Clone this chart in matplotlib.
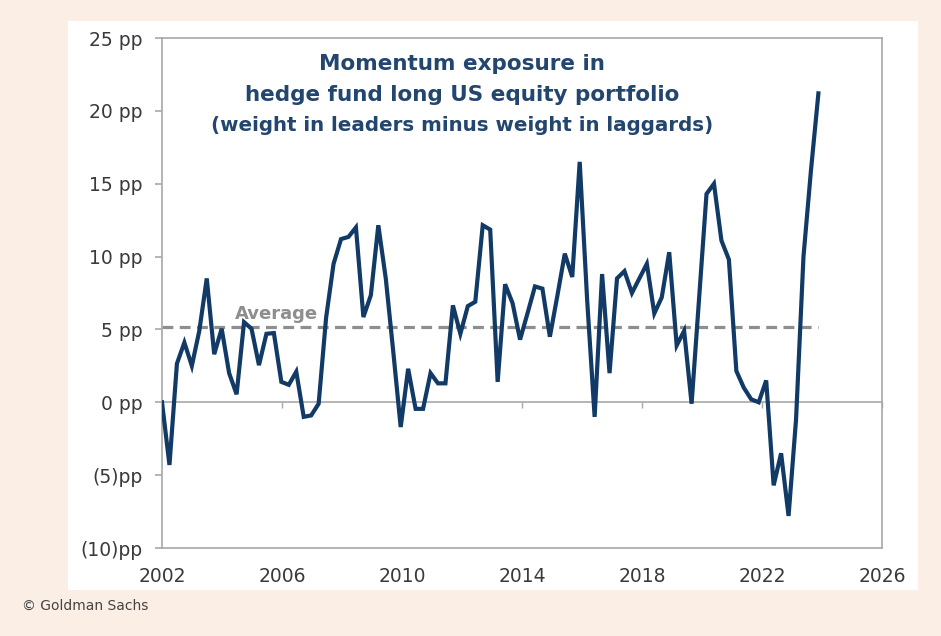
import numpy as np
import matplotlib
matplotlib.use("Agg")
import matplotlib.pyplot as plt
from matplotlib.patches import Rectangle
from matplotlib.ticker import FixedLocator, FixedFormatter

# ---- data (quarterly, pp) ----
momentum = [
    0.0, -4.3, 2.65, 4.1, 2.5, 4.9, 8.5, 3.3, 5.05, 2.0, 0.55,
    5.5, 5.05, 2.55, 4.7, 4.75, 1.4, 1.2, 2.1, -1.0, -0.9,
    -0.1, 5.8, 9.5, 11.2, 11.35, 12.0, 5.85, 7.35, 12.15, 8.5,
    3.5, -1.7, 2.3, -0.45, -0.45, 2.0, 1.3, 1.3, 6.65, 4.7,
    6.6, 6.9, 12.15, 11.85, 1.4, 8.1, 6.8, 4.3, 6.1, 7.95,
    7.8, 4.5, 7.3, 10.2, 8.6, 16.5, 7.0, -1.0, 8.8, 2.0,
    8.5, 9.0, 7.5, 8.5, 9.5, 6.1, 7.2, 10.3, 3.9, 4.9,
    -0.1, 7.1, 14.3, 15.0, 11.1, 9.8, 2.15, 1.0, 0.2, 0.0,
    1.5, -5.7, -3.5, -7.8, -1.2, 10.0, 15.9, 21.2,
]
start_year, end_year = 2002.0, 2023.88
dates = np.linspace(start_year, end_year, len(momentum))
average = 5.2

y_ticks = [25, 20, 15, 10, 5, 0, -5, -10]
y_labels = ["25 pp", "20 pp", "15 pp", "10 pp", "5 pp", "0 pp", "(5)pp", "(10)pp"]
x_ticks = [2002, 2006, 2010, 2014, 2018, 2022, 2026]
x_labels = [str(v) for v in x_ticks]

title_lines = ["Momentum exposure in",
               "hedge fund long US equity portfolio",
               "(weight in leaders minus weight in laggards)"]

# ---- styles ----
BG = "#fbeee4"
LINE = "#113a66"
TITLE_C = "#23466f"
FRAME = "#a8a8a8"
AVG_C = "#8e8e8e"
TXT = "#3a3a3a"

fig = plt.figure(figsize=(9.41, 6.36), dpi=100, facecolor=BG)
panel = Rectangle((68 / 941, 1 - 589.5 / 636), 850 / 941, 569 / 636,
                  transform=fig.transFigure, facecolor="white",
                  edgecolor="none", zorder=-10)
fig.add_artist(panel)

ax = fig.add_axes([162 / 941, 1 - 548 / 636, 720 / 941, 510 / 636])
ax.set_zorder(1)
ax.set_facecolor("white")
ax.set_xlim(2002, 2026)
ax.set_ylim(-10, 25)

for s in ax.spines.values():
    s.set_color(FRAME)
    s.set_linewidth(1.2)

ax.yaxis.set_major_locator(FixedLocator(y_ticks))
ax.yaxis.set_major_formatter(FixedFormatter(y_labels))
ax.xaxis.set_major_locator(FixedLocator(x_ticks))
ax.xaxis.set_major_formatter(FixedFormatter(x_labels))
ax.tick_params(axis="y", direction="out", length=5, width=1.2, color=FRAME,
               pad=9, labelsize=13.5, labelcolor=TXT)
ax.tick_params(axis="x", length=0, pad=14, labelsize=13.5, labelcolor=TXT)

# zero axis with ticks
sec = ax.secondary_xaxis(10 / 35)
sec.spines["bottom"].set_color(FRAME)
sec.spines["bottom"].set_linewidth(1.2)
sec.xaxis.set_major_locator(FixedLocator(x_ticks))
sec.tick_params(axis="x", direction="out", length=4, width=1.0, color=FRAME,
                labelbottom=False)

# average line
ax.plot([start_year, end_year], [average, average], color=AVG_C, lw=2.3,
        dashes=(3.4, 2.0), zorder=2)
ax.text(2005.8, average + 0.25, "Average", color=AVG_C, fontsize=13,
        fontweight="bold", ha="center", va="bottom", zorder=2)

# series
ax.plot(dates, momentum, color=LINE, lw=3.0, solid_joinstyle="miter", zorder=3)

# title, one text per line
title_y = [0.949, 0.888, 0.829]
title_sizes = [15.5, 15.5, 14.3]
for txt, yy, fs in zip(title_lines, title_y, title_sizes):
    ax.text(0.417, yy, txt, transform=ax.transAxes, ha="center", va="center",
            fontsize=fs, fontweight="bold", color=TITLE_C)

fig.text(22 / 941, 1 - 606 / 636, "\u00a9 Goldman Sachs", fontsize=10,
         color="#444444", va="center", ha="left")

fig.savefig("out.png", dpi=100, facecolor=BG)
